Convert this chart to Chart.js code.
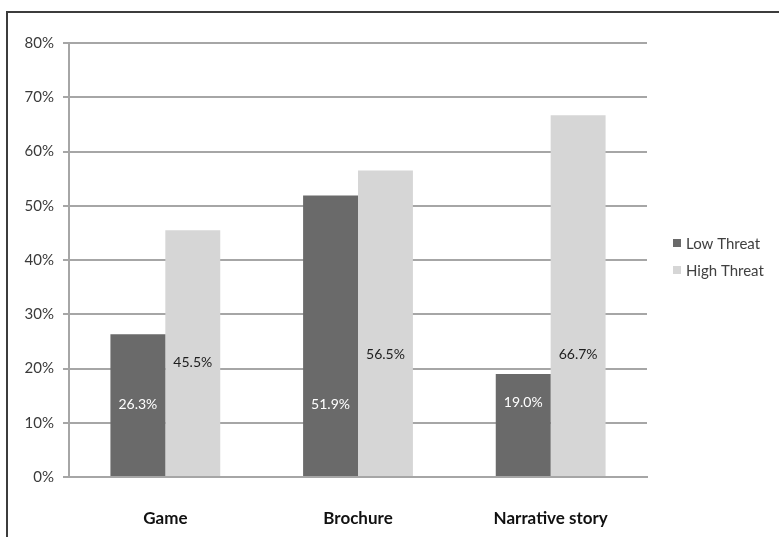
<!DOCTYPE html>
<html>
<head>
<meta charset="utf-8">
<script src="https://cdn.jsdelivr.net/npm/chart.js@4"></script>
<style>
  html, body { margin: 0; padding: 0; background: #fff; }
  #wrap { width: 779px; height: 537px; }
</style>
</head>
<body>
<div id="wrap"><canvas id="c" width="779" height="537"></canvas></div>
<script>
// Share of participants, by material and threat condition (percent)
const categories = ['Game', 'Brochure', 'Narrative story'];
const lowThreat = [26.3, 51.9, 19.0];
const highThreat = [45.5, 56.5, 66.7];
const yTicks = [0, 10, 20, 30, 40, 50, 60, 70, 80];

const FONT = 'Lato, "Open Sans", sans-serif';

// White page with the chart frame on its left and top
const framePlugin = {
  id: 'frame',
  beforeDraw(chart) {
    const ctx = chart.ctx;
    ctx.save();
    ctx.fillStyle = '#ffffff';
    ctx.fillRect(0, 0, chart.width, chart.height);
    ctx.strokeStyle = '#3c3c3c';
    ctx.lineWidth = 2;
    ctx.strokeRect(7, 12, chart.width + 20, chart.height + 20);
    ctx.restore();
  }
};

// Value labels written inside the bars, at a set height on the value axis
const valueLabels = {
  id: 'valueLabels',
  afterDatasetsDraw(chart, args, opts) {
    const ctx = chart.ctx;
    const y = chart.scales.y;
    ctx.save();
    ctx.font = opts.font;
    ctx.textAlign = 'center';
    ctx.textBaseline = 'middle';
    chart.data.datasets.forEach((ds, di) => {
      const meta = chart.getDatasetMeta(di);
      meta.data.forEach((bar, i) => {
        ctx.fillStyle = opts.colors[di];
        const at = opts.anchors[di][i];
        ctx.fillText(ds.data[i].toFixed(1) + '%', bar.x, y.getPixelForValue(at));
      });
    });
    ctx.restore();
  }
};

// Legend at the right, one row per series
const sideLegend = {
  id: 'sideLegend',
  afterDraw(chart, args, opts) {
    const ctx = chart.ctx;
    ctx.save();
    ctx.font = opts.font;
    ctx.textBaseline = 'middle';
    ctx.textAlign = 'left';
    chart.data.datasets.forEach((ds, i) => {
      const cy = opts.top + i * opts.rowGap;
      ctx.fillStyle = ds.backgroundColor;
      ctx.fillRect(opts.left, cy - 4, 8, 8);
      ctx.fillStyle = '#404040';
      ctx.fillText(ds.label, opts.left + 13, cy + 1);
    });
    ctx.restore();
  }
};

new Chart(document.getElementById('c'), {
  type: 'bar',
  data: {
    labels: categories,
    datasets: [
      { label: 'Low Threat', data: lowThreat, backgroundColor: '#6a6a6a' },
      { label: 'High Threat', data: highThreat, backgroundColor: '#d6d6d6' }
    ]
  },
  options: {
    responsive: false,
    animation: false,
    devicePixelRatio: 1,
    layout: { padding: { left: 0, top: 43, right: 132, bottom: 0 } },
    datasets: { bar: { categoryPercentage: 0.57, barPercentage: 1.0, borderWidth: 0 } },
    scales: {
      x: {
        grid: { display: false, drawTicks: false },
        border: { display: true, color: '#a6a6a6', width: 2 },
        ticks: { color: '#111', font: { family: FONT, size: 17, weight: 'bold' }, padding: 31 },
        afterFit(s) { s.height = 60; }
      },
      y: {
        min: 0, max: 80,
        afterBuildTicks(s) { s.ticks = yTicks.map(v => ({ value: v })); },
        grid: { color: '#a6a6a6', lineWidth: 2, tickLength: 6 },
        border: { display: true, color: '#a6a6a6', width: 2 },
        ticks: {
          color: '#3a3a3a', font: { family: FONT, size: 15 }, padding: 9,
          callback: v => v + '%'
        },
        afterFit(s) { s.width = 69; }
      }
    },
    plugins: {
      legend: { display: false },
      tooltip: { enabled: false },
      valueLabels: {
        font: '14px ' + FONT,
        colors: ['#ffffff', '#1e1e1e'],
        anchors: [[13.3, 13.3, 13.7], [21.2, 22.5, 22.5]]
      },
      sideLegend: { font: '15px ' + FONT, left: 673, top: 243, rowGap: 27 }
    }
  },
  plugins: [framePlugin, valueLabels, sideLegend]
});
</script>
</body>
</html>
